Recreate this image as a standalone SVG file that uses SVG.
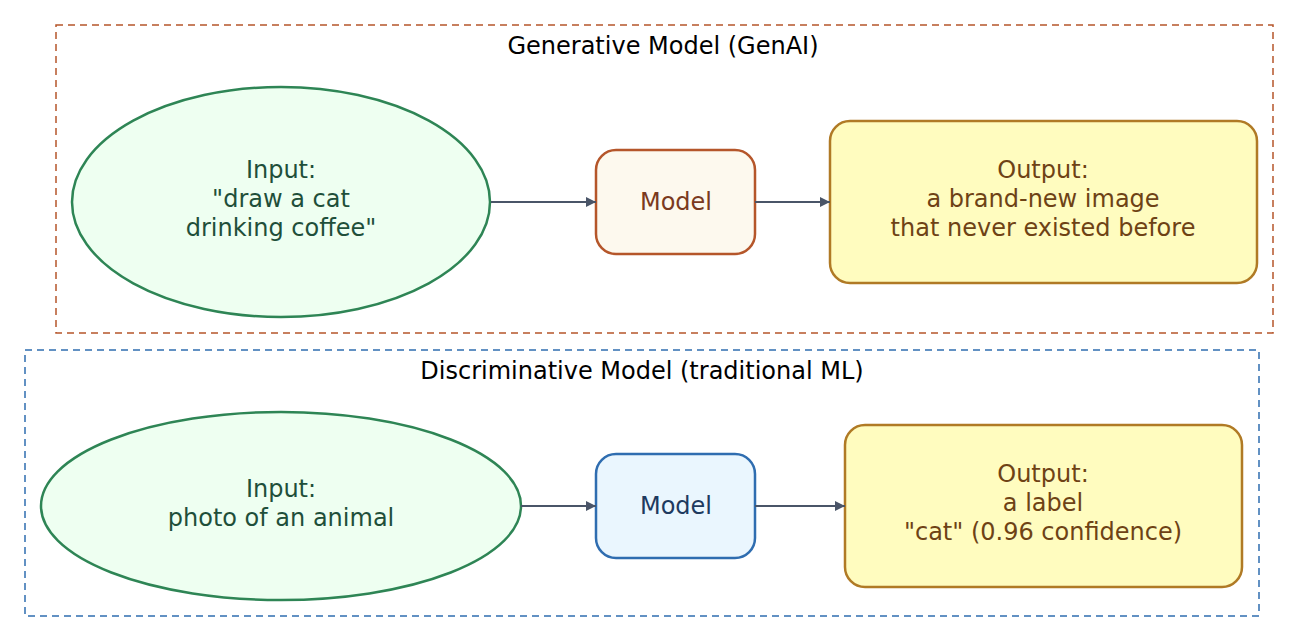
<svg xmlns="http://www.w3.org/2000/svg" width="1299" height="642" viewBox="0 0 1299 642">
<defs>
<marker id="ah" viewBox="0 0 10 10" refX="10" refY="5" markerWidth="10" markerHeight="10" markerUnits="userSpaceOnUse" orient="auto"><path d="M0,0 L10,5 L0,10 z" fill="#4a5568"/></marker>
<style>
text{font-family:"DejaVu Sans",sans-serif;font-size:24px;text-anchor:middle}
.t{fill:#000}
.in{fill:#eefff1;stroke:#2e8555;stroke-width:2.5}
.int{fill:#1f4f3a}
.out{fill:#fffcbf;stroke:#b07a25;stroke-width:2.5}
.outt{fill:#6e4215}
.e{stroke:#4a5568;stroke-width:1.8;fill:none;marker-end:url(#ah)}
</style>
</defs>
<rect width="1299" height="642" fill="#fff"/>
<g id="cluster_gen">
<rect x="56" y="25" width="1217" height="308" fill="none" stroke="#b5562a" stroke-width="1.5" stroke-dasharray="7,5"/>
<text x="663" y="54" class="t">Generative Model (GenAI)</text>
</g>
<g id="cluster_disc">
<rect x="25" y="350" width="1234" height="266" fill="none" stroke="#2f6db0" stroke-width="1.5" stroke-dasharray="7,5"/>
<text x="642" y="379" class="t">Discriminative Model (traditional ML)</text>
</g>
<g id="gen_input">
<ellipse cx="281" cy="202" rx="209" ry="115" class="in"/>
<text class="int" x="281" y="178">Input:</text>
<text class="int" x="281" y="207">"draw a cat</text>
<text class="int" x="281" y="236">drinking coffee"</text>
</g>
<g id="gen_model">
<rect x="596" y="150" width="159" height="104" rx="20" fill="#fdf9ee" stroke="#b5562a" stroke-width="2.5"/>
<text x="676" y="210" fill="#7a3a20">Model</text>
</g>
<g id="gen_output">
<rect x="830" y="121" width="427" height="162" rx="20" class="out"/>
<text class="outt" x="1043" y="178">Output:</text>
<text class="outt" x="1043" y="207">a brand-new image</text>
<text class="outt" x="1043" y="236">that never existed before</text>
</g>
<g id="disc_input">
<ellipse cx="281" cy="506" rx="240" ry="94" class="in"/>
<text class="int" x="281" y="497">Input:</text>
<text class="int" x="281" y="526">photo of an animal</text>
</g>
<g id="disc_model">
<rect x="596" y="454" width="159" height="104" rx="20" fill="#eaf6fe" stroke="#2f6db0" stroke-width="2.5"/>
<text x="676" y="514" fill="#1e3a5f">Model</text>
</g>
<g id="disc_output">
<rect x="845" y="425" width="397" height="162" rx="20" class="out"/>
<text class="outt" x="1043" y="482">Output:</text>
<text class="outt" x="1043" y="511">a label</text>
<text class="outt" x="1043" y="540">"cat" (0.96 confidence)</text>
</g>
<g id="edges">
<line x1="491" y1="202" x2="596" y2="202" class="e"/>
<line x1="755" y1="202" x2="830" y2="202" class="e"/>
<line x1="521" y1="506" x2="596" y2="506" class="e"/>
<line x1="755" y1="506" x2="845" y2="506" class="e"/>
</g>
</svg>
